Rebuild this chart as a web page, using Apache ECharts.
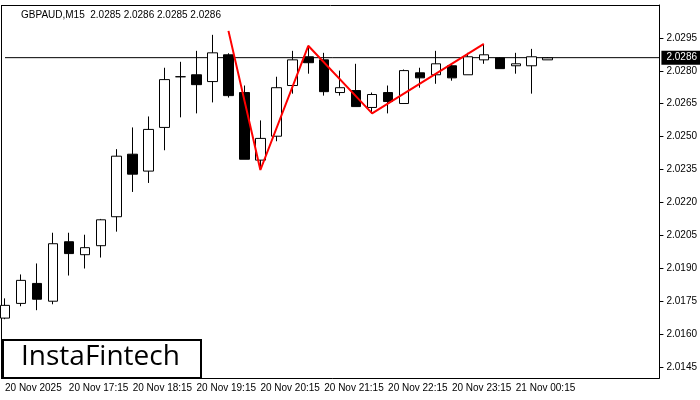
<!DOCTYPE html>
<html><head><meta charset="utf-8">
<script src="https://cdn.jsdelivr.net/npm/echarts@6/dist/echarts.min.js"></script>
<style>html,body{margin:0;padding:0;background:#fff}#main{width:700px;height:400px}</style>
</head><body><div id="main"></div>
<script>
// M15 bars, [open, close, low, high]
var times = ['16:15','16:30','16:45','17:00','17:15','17:30','17:45','18:00','18:15','18:30','18:45','19:00',
  '19:15','19:30','19:45','20:00','20:15','20:30','20:45','21:00','21:15','21:30','21:45','22:00',
  '22:15','22:30','22:45','23:00','23:15','23:30','23:45','00:00','00:15','00:30','00:45',
  '01:00','01:15','01:30','01:45','02:00','02:15','02:30'];
var candles = [
  [2.01673,2.01731,2.01668,2.01763],[2.01740,2.01845,2.01727,2.01872],[2.01831,2.01759,2.01709,2.01922],
  [2.01750,2.02012,2.01736,2.02062],[2.02021,2.01967,2.01867,2.02062],[2.01962,2.01994,2.01899,2.02053],
  [2.02003,2.02121,2.01949,2.02125],[2.02135,2.02411,2.02067,2.02443],[2.02420,2.02329,2.02248,2.02542],
  [2.02343,2.02533,2.02289,2.02592],[2.02542,2.02760,2.02438,2.02814],[2.02773,2.02773,2.02588,2.02841],
  [2.02782,2.02737,2.02606,2.02891],[2.02751,2.02882,2.02656,2.02964],[2.02873,2.02687,2.02678,2.02880],
  [2.02701,2.02397,2.02397,2.02733],[2.02393,2.02492,2.02348,2.02574],[2.02502,2.02723,2.02479,2.02773],
  [2.02733,2.02850,2.02696,2.02891],[2.02864,2.02837,2.02787,2.02914],[2.02850,2.02705,2.02687,2.02882],
  [2.02701,2.02723,2.02687,2.02801],[2.02710,2.02637,2.02637,2.02832],[2.02633,2.02692,2.02606,2.02701],
  [2.02701,2.02660,2.02606,2.02733],[2.02651,2.02801,2.02651,2.02806],[2.02791,2.02768,2.02723,2.02814],
  [2.02782,2.02832,2.02741,2.02891],[2.02823,2.02768,2.02755,2.02830],[2.02782,2.02864,2.02782,2.02882],
  [2.02850,2.02873,2.02832,2.02918],[2.02859,2.02810,2.02810,2.02862],[2.02823,2.02832,2.02787,2.02882],
  [2.02823,2.02864,2.02696,2.02900],[2.02850,2.02859,2.02850,2.02862]
];
// pattern zigzag: [bar index, price]
var pattern = [[14,2.02982],[16,2.02348],[19,2.02914],[23,2.02606],[30,2.02923]];
var lastPrice = 2.0286;
var yTicks = [2.0145,2.0160,2.0175,2.0190,2.0205,2.0220,2.0235,2.0250,2.0265,2.0280,2.0295];

var myChart = echarts.init(document.getElementById('main'));
var option = {
  animation: false,
  backgroundColor: '#fff',
  textStyle: {fontFamily: 'Liberation Sans'},
  grid: {left: 5, right: 40, top: 5, bottom: 22},
  title: {text: 'GBPAUD,M15  2.0285 2.0286 2.0285 2.0286', left: 16, top: 5,
    textStyle: {fontSize: 10, fontWeight: 'normal', color: '#000', fontFamily: 'Liberation Sans'}},
  xAxis: {
    type: 'category', data: times, boundaryGap: false,
    axisLine: {lineStyle: {color: '#000'}},
    axisTick: {show: false},
    axisLabel: {
      interval: function (i) { return i % 4 === 0 && i <= 32; },
      formatter: function (v, i) {
        if (i === 0) return '20 Nov 2025';
        return (i >= 32 ? '21 Nov ' : '20 Nov ') + v;
      },
      color: '#000', fontSize: 10, align: 'left', margin: 5
    },
    splitLine: {show: false}
  },
  yAxis: {
    type: 'value', position: 'right', min: 2.0140, max: 2.0310, scale: true,
    axisLine: {show: true, lineStyle: {color: '#000'}},
    axisTick: {show: true, customValues: yTicks, length: 4, lineStyle: {color: '#000'}},
    axisLabel: {customValues: yTicks, color: '#000', fontSize: 10, margin: 7,
      formatter: function (v) { return v.toFixed(4); }},
    splitLine: {show: false}
  },
  graphic: [
    {type: 'line', shape: {x1: 1.5, y1: 5, x2: 1.5, y2: 378}, style: {stroke: '#000', lineWidth: 1}},
    {type: 'line', shape: {x1: 1, y1: 5.5, x2: 660, y2: 5.5}, style: {stroke: '#000', lineWidth: 1}},
    {type: 'line', shape: {x1: 1, y1: 378.5, x2: 8, y2: 378.5}, style: {stroke: '#000', lineWidth: 1}},
    {type: 'rect', shape: {x: 3, y: 340, width: 198, height: 38},
      style: {fill: '#fff', stroke: '#000', lineWidth: 2}, z: 100},
    {type: 'text', x: 21, y: 343, z: 101,
      style: {text: 'InstaFintech', fill: '#000', font: '28px "Open Sans"'}}
  ],
  series: [{
    type: 'line', data: [[0, lastPrice], [times.length - 1, lastPrice]], symbol: 'none',
    lineStyle: {color: '#000', width: 1}, z: 1, silent: true,
    endLabel: {show: true, formatter: '2.0286', backgroundColor: '#000', color: '#fff',
      fontSize: 10, padding: [2, 5], distance: 2}
  }, {
    type: 'candlestick', data: candles, barWidth: 10, z: 2,
    itemStyle: {color: '#fff', color0: '#000', borderColor: '#000', borderColor0: '#000', borderWidth: 1}
  }, {
    type: 'line', data: pattern, symbol: 'none',
    lineStyle: {color: '#ff0000', width: 2}, z: 5
  }]
};
myChart.setOption(option);
</script></body></html>
